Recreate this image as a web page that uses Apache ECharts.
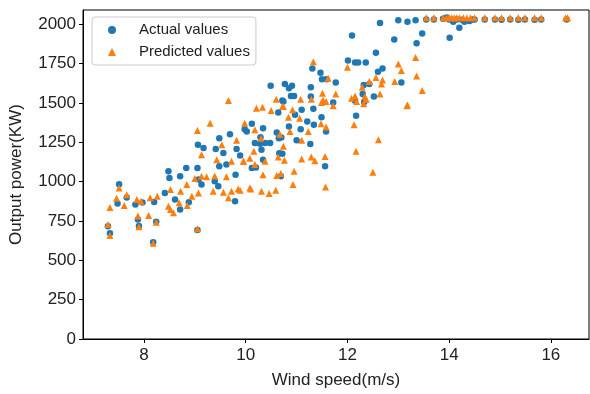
<!DOCTYPE html>
<html><head><meta charset="utf-8">
<script src="https://cdn.jsdelivr.net/npm/echarts@6/dist/echarts.min.js"></script>
<style>html,body{margin:0;padding:0;background:#fff}#c{width:590px;height:394px}</style>
</head><body><div id="c"></div>
<script>
const actualValues = [
[7.29,717],[7.33,671],[7.48,861],[7.51,983],[7.66,899],[7.83,854],[7.88,759],[7.90,718],[7.97,867],[8.18,615],[8.20,871],[8.24,745],[8.41,928],[8.48,1065],[8.50,1023],[8.61,886],[8.71,823],[8.71,1034],[8.83,1086],[8.88,869],[9.05,692],[9.06,1234],[9.17,1213],[9.05,1086],[9.07,1013],[9.13,981],[9.48,1276],[9.41,1207],[9.56,1181],[9.48,1097],[9.69,1301],[9.82,1207],[9.89,1165],[9.62,1108],[9.80,1044],[9.39,1002],[9.79,875],[9.46,970],[9.98,1333],
[10.12,1367],[10.02,1318],[10.34,1339],[10.29,1282],[10.18,1245],[10.28,1240],[10.38,1245],[10.48,1245],[10.31,1203],[10.12,1086],[10.20,1090],[10.34,1139],[10.69,1034],[10.72,1177],[10.66,1180],[10.61,1312],[10.65,1276],[10.70,1280],[10.85,1350],[10.97,1424],[11.08,1333],[11.21,1382],[11.34,1361],[11.00,1262],[11.27,1238],[11.49,1409],[11.58,1318],[11.56,1097],[10.64,1439],[10.74,1508],[11.10,1456],[11.33,1462],[11.72,1502],[12.17,1418],
[11.31,1719],[11.47,1692],[11.50,1650],[11.59,1650],[11.77,1629],[11.28,1599],[10.77,1620],[10.85,1593],[10.91,1608],[10.49,1608],[10.72,1515],[10.89,1544],[10.95,1544],[11.28,1540],[12.01,1769],[12.15,1756],[12.21,1756],[12.36,1756],[12.09,1928],[12.56,1819],[12.69,1719],[12.60,1698],[12.32,1614],[12.43,1620],[12.30,1557],[12.52,1540],[12.15,1513],[12.33,1505],[13.06,1629],[12.92,1903],[13.36,1878],[13.47,1941],[12.64,2008],[13.00,2025],[13.18,2015],[13.34,2025],[14.01,1914],[14.20,1977],
[13.55,2030],[13.70,2030],[13.88,2035],[13.95,2042],[14.00,2030],[14.08,2015],[14.15,2030],[14.25,2028],[14.30,2015],[14.40,2020],[14.45,2030],[14.50,2030],[14.70,2030],[14.90,2030],[15.03,2028],[15.20,2030],[15.36,2028],[15.49,2030],[15.68,2028],[15.81,2030],[16.31,2030]
];
const predictedValues = [
[7.29,728],[7.33,658],[7.33,835],[7.51,960],[7.46,894],[7.61,848],[7.66,916],[7.88,781],[7.90,713],[8.09,785],[8.24,742],[8.18,608],[7.86,886],[7.94,875],[8.12,897],[8.26,907],[8.52,949],[8.48,844],[8.52,823],[8.58,802],[8.69,865],[8.72,939],[8.84,981],[8.85,848],[8.94,907],[9.05,1325],[9.30,1371],[9.66,1515],[9.13,1171],[9.00,1019],[9.13,1034],[9.23,1030],[9.07,928],[9.05,700],[9.53,1234],[9.43,1139],[9.82,1262],[9.95,1129],[9.72,1129],[9.62,1030],[9.39,1036],[9.36,939],[9.56,933],[9.72,939],[9.66,897],[9.85,953],[9.98,1371],
[10.21,1466],[10.33,1472],[10.50,1451],[10.74,1477],[10.92,1456],[11.49,1502],[12.18,1508],[12.32,1494],[13.18,1487],[12.13,1361],[12.61,1266],[12.17,1192],[12.50,1060],
[10.18,1329],[10.30,1276],[10.16,1192],[9.96,1129],[10.08,1149],[10.18,1108],[10.38,1129],[10.34,1044],[10.08,960],[10.31,939],[10.46,924],[10.59,945],[10.61,1038],[10.69,1051],[10.93,981],[10.95,1066],[10.64,1156],[10.76,1135],[10.74,1224],[10.67,1301],[10.87,1318],[10.84,1409],[11.06,1403],[11.23,1318],[11.10,1262],[11.48,1367],[11.58,1346],[11.10,1143],[11.29,1156],[11.36,1133],[11.56,1160],[11.57,966],[10.10,953],[9.89,945],
[11.33,1762],[12.00,1726],[13.00,1747],[13.06,1705],[13.34,1789],[13.36,1671],[11.62,1656],[10.60,1523],[10.72,1477],[11.08,1523],[11.29,1523],[11.51,1561],[11.52,1519],[11.58,1508],[11.72,1481],[11.77,1557],[12.08,1529],[12.15,1544],[12.29,1599],[12.34,1540],[12.37,1523],[12.43,1635],[12.56,1661],[12.64,1557],[12.69,1646],[12.67,1620],[12.93,1635],[13.47,1578],[13.17,1481],
[13.55,2040],[13.70,2040],[13.88,2040],[13.95,2040],[14.00,2040],[14.05,2040],[14.10,2040],[14.15,2040],[14.20,2040],[14.28,2040],[14.35,2040],[14.42,2040],[14.50,2040],[14.70,2040],[14.90,2040],[15.03,2040],[15.20,2040],[15.36,2040],[15.49,2040],[15.68,2040],[15.81,2040],[16.29,2040],[16.33,2040]
];
const xTicks = [8, 10, 12, 14, 16];
const yTicks = [0, 250, 500, 750, 1000, 1250, 1500, 1750, 2000];
const seriesNames = ['Actual values', 'Predicted values'];

const font = '"Liberation Sans", Arial, sans-serif';
const chart = echarts.init(document.getElementById('c'), null, {renderer: 'canvas'});
chart.setOption({
  animation: false,
  backgroundColor: '#fff',
  grid: {left: 83, right: 1, top: 10, bottom: 54, show: true, borderColor: '#000', borderWidth: 1, backgroundColor: 'transparent'},
  legend: {
    orient: 'vertical', left: 92, top: 17,
    padding: [5, 6, 5, 16],
    itemGap: 6, itemWidth: 8, itemHeight: 8,
    borderColor: '#ccc', borderWidth: 1, borderRadius: 3,
    backgroundColor: 'rgba(255,255,255,0.8)',
    textStyle: {fontFamily: font, fontSize: 15, color: '#222', lineHeight: 16, padding: [0, 0, 0, 18]},
    data: [
      {name: seriesNames[0], icon: 'circle', itemStyle: {color: '#1f77b4'}},
      {name: seriesNames[1], icon: 'triangle', itemStyle: {color: '#ff7f0e'}}
    ]
  },
  xAxis: {
    type: 'value', min: 6.8, max: 16.75,
    name: 'Wind speed(m/s)', nameLocation: 'middle', nameGap: 33,
    nameTextStyle: {fontFamily: font, fontSize: 17, color: '#222'},
    axisLine: {show: true, lineStyle: {color: '#000', width: 1}},
    axisTick: {show: true, length: 4, lineStyle: {color: '#000'}, customValues: xTicks},
    axisLabel: {customValues: xTicks, fontFamily: font, fontSize: 17, color: '#222', margin: 8,
                formatter: v => String(v)},
    splitLine: {show: false}
  },
  yAxis: {
    type: 'value', min: 0, max: 2090,
    name: 'Output power(KW)', nameLocation: 'middle', nameGap: 58,
    nameTextStyle: {fontFamily: font, fontSize: 17, color: '#222'},
    axisLine: {show: true, lineStyle: {color: '#000', width: 1}},
    axisTick: {show: true, length: 4, lineStyle: {color: '#000'}, customValues: yTicks},
    axisLabel: {customValues: yTicks, fontFamily: font, fontSize: 17, color: '#222', margin: 7,
                formatter: v => String(v)},
    splitLine: {show: false}
  },
  series: [
    {name: seriesNames[0], type: 'scatter', data: actualValues, symbol: 'circle', symbolSize: 6.5,
     itemStyle: {color: '#1f77b4', opacity: 1}, z: 2},
    {name: seriesNames[1], type: 'scatter', data: predictedValues, symbol: 'triangle', symbolSize: 7,
     itemStyle: {color: '#ff7f0e', opacity: 1}, z: 3}
  ]
});
</script></body></html>
